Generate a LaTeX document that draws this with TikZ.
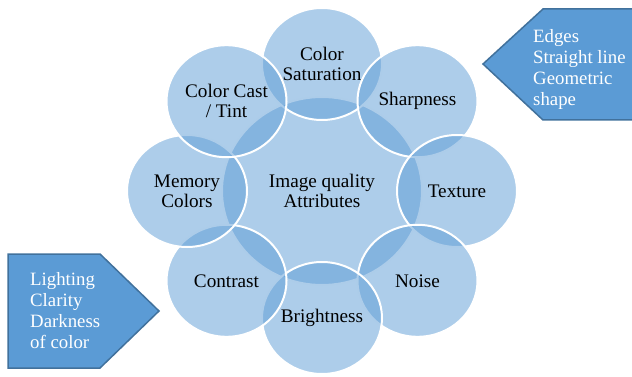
\documentclass[tikz,border=0pt]{standalone}
\usepackage{fontspec}
\setmainfont{Liberation Serif}
\usetikzlibrary{shapes.geometric}

\definecolor{accent}{HTML}{5B9BD5}
\definecolor{accentdark}{HTML}{41719C}

\begin{document}
\begin{tikzpicture}[
    x=1pt, y=-1pt,
    bubble/.style={ellipse, draw=white, line width=2pt, fill=accent, fill opacity=0.5, text opacity=1,
        inner sep=0pt, minimum width=120pt, minimum height=112pt, align=center,
        font=\fontsize{19.2}{20}\selectfont},
    hub/.style={bubble, minimum width=200pt, minimum height=188pt},
    callout/.style={draw=accentdark, line width=1.5pt, fill=accent, line join=miter},
    calloutlabel/.style={text=white, align=left, anchor=north west, inner sep=0pt,
        font=\fontsize{18.8}{21}\selectfont}
]
\useasboundingbox (0,0) rectangle (632,377);

% hub in the middle
\node[hub] (hub) at (322,191) {Image quality\\Attributes};

% ring of attributes, clockwise from the top
\node[bubble] (sat) at (322,64) {Color\\Saturation};
\node[bubble] (sharp) at (417.5,101.2) {Sharpness};
\node[bubble] (texture) at (457,191) {Texture};
\node[bubble] (noise) at (417.5,280.8) {Noise};
\node[bubble] (bright) at (322,318) {Brightness};
\node[bubble] (contrast) at (226.5,280.8) {Contrast};
\node[bubble] (memory) at (187,191) {Memory\\Colors};
\node[bubble] (cast) at (226.5,101.2) {Color Cast\\/ Tint};

% side callouts
\draw[callout] (645,9) -- (543,9) -- (483,64) -- (543,120) -- (645,120) -- cycle;
\node[calloutlabel] (edgecues) at (533,29) {Edges\\Straight line\\Geometric\\shape};

\draw[callout] (8,254) -- (100,254) -- (159,311) -- (100,368) -- (8,368) -- cycle;
\node[calloutlabel] (lightcues) at (30,272) {Lighting\\Clarity\\Darkness\\of color};

\end{tikzpicture}
\end{document}
